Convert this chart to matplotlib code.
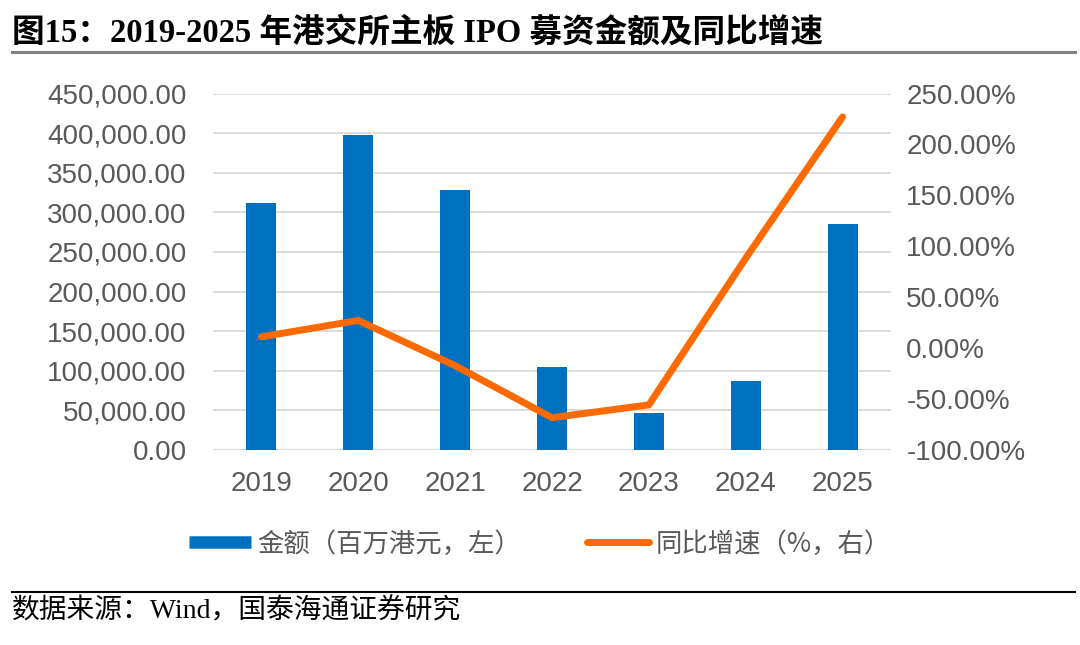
import matplotlib
matplotlib.use('Agg')
import matplotlib.pyplot as plt
from matplotlib.lines import Line2D
from matplotlib.ticker import FuncFormatter, MultipleLocator

plt.rcParams['font.family'] = ['Liberation Sans', 'Noto Sans CJK SC', 'DejaVu Sans']

# data
years = ['2019', '2020', '2021', '2022', '2023', '2024', '2025']
amount = [311700, 397000, 328600, 104200, 46200, 87000, 284800]   # 百万港元
growth = [11.1, 27.2, -17.2, -68.3, -55.7, 88.3, 227.0]           # %

bar_color = '#0070C0'
line_color = '#FF6A00'
text_gray = '#595959'
grid_gray = '#D9D9D9'

fig = plt.figure(figsize=(10.8, 6.45), dpi=100)
ax = fig.add_axes([213/1080, 1-450/645, 678/1080, 356.5/645])
ax2 = ax.twinx()

x = range(len(years))
ax.bar(x, amount, width=0.31, color=bar_color, zorder=2)
ax2.plot(x, growth, color=line_color, lw=5, solid_capstyle='round',
         solid_joinstyle='round', zorder=3)

ax.set_xlim(-0.5, len(years) - 0.5)
ax.set_ylim(0, 450000)
ax2.set_ylim(-100, 250)
ax.yaxis.set_major_locator(MultipleLocator(50000))
ax2.yaxis.set_major_locator(MultipleLocator(50))
ax.yaxis.set_major_formatter(FuncFormatter(lambda v, p: f'{v:,.2f}'))
ax2.yaxis.set_major_formatter(FuncFormatter(lambda v, p: f'{v:.2f}%'))
ax.set_xticks(list(x))
ax.set_xticklabels(years)

ax.grid(axis='y', color=grid_gray, lw=1.3, zorder=0)
ax.set_axisbelow(True)
for a in (ax, ax2):
    for s in ['top', 'left', 'right', 'bottom']:
        a.spines[s].set_visible(False)
ax.axhline(0, color=grid_gray, lw=1.6, zorder=1)

ax.tick_params(axis='y', length=0, pad=19, labelsize=20, labelcolor=text_gray)
ax.tick_params(axis='x', length=0, pad=15, labelsize=20, labelcolor=text_gray)
ax2.tick_params(axis='y', length=0, pad=11, labelsize=20, labelcolor=text_gray)

# legend
handles = [Line2D([], [], color=bar_color, lw=9, solid_capstyle='butt'),
           Line2D([], [], color=line_color, lw=5, solid_capstyle='round')]
labels = ['金额（百万港元，左）', '同比增速（%，右）']
leg = fig.legend(handles, labels, loc='center', bbox_to_anchor=(540/1080, 1-544/645),
                 ncol=2, frameon=False, handlelength=2.35,
                 handletextpad=0.25, columnspacing=2.5,
                 prop={'family': ['Noto Sans CJK SC', 'DejaVu Sans'], 'size': 19})
for t in leg.get_texts():
    t.set_color(text_gray)

# title and source
fig.text(12/1080, 1-33/645, '图15：2019-2025 年港交所主板 IPO 募资金额及同比增速',
         fontsize=23.5, fontweight='bold', va='center', ha='left',
         family=['Liberation Serif', 'Noto Sans CJK SC'])
fig.add_artist(Line2D([12/1080, 1075/1080], [1-52/645, 1-52/645],
                      color='#808080', lw=2.2, transform=fig.transFigure))
fig.add_artist(Line2D([12/1080, 1075/1080], [1-592/645, 1-592/645],
                      color='black', lw=1.5, transform=fig.transFigure))
fig.text(12/1080, 1-611/645, '数据来源：Wind，国泰海通证券研究',
         fontsize=20, va='center', ha='left',
         family=['Liberation Serif', 'Noto Sans CJK SC'])

fig.savefig('out.png', dpi=100)
